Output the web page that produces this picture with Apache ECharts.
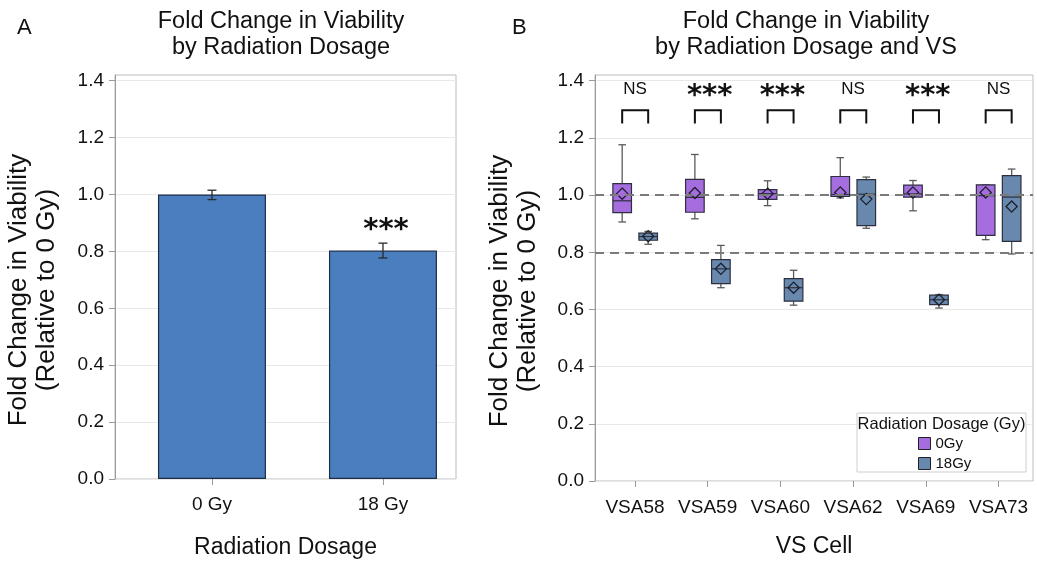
<!DOCTYPE html>
<html><head><meta charset="utf-8">
<script src="https://cdn.jsdelivr.net/npm/echarts@6/dist/echarts.min.js"></script>
<style>html,body{margin:0;padding:0;background:#fff}#c{width:1037px;height:570px}</style>
</head><body><div id="c"></div>
<script>
// ---------- Panel A data ----------
const doseCategories = ['0 Gy', '18 Gy'];
const doseMeans = [1.000, 0.803];
const doseErrLow = [0.982, 0.777];
const doseErrHigh = [1.015, 0.829];
const doseSignif = ['', '***'];

// ---------- Panel B data ----------
const cellCategories = ['VSA58', 'VSA59', 'VSA60', 'VSA62', 'VSA69', 'VSA73'];
// each entry: [whisker low, Q1, median, Q3, whisker high]
const box0Gy = [
  [0.906, 0.939, 0.980, 1.040, 1.176],
  [0.917, 0.940, 0.992, 1.055, 1.142],
  [0.963, 0.985, 1.005, 1.019, 1.050],
  [0.990, 0.995, 1.002, 1.065, 1.131],
  [0.945, 0.993, 1.004, 1.035, 1.051],
  [0.844, 0.859, 0.998, 1.036, 1.036]
];
const box18Gy = [
  [0.828, 0.842, 0.855, 0.867, 0.873],
  [0.676, 0.690, 0.742, 0.774, 0.824],
  [0.615, 0.629, 0.676, 0.708, 0.737],
  [0.884, 0.893, 1.003, 1.054, 1.063],
  [0.605, 0.617, 0.634, 0.650, 0.652],
  [0.794, 0.838, 0.993, 1.068, 1.091]
];
const mean0Gy = [1.005, 1.007, 1.005, 1.009, 1.009, 1.009];
const mean18Gy = [0.856, 0.742, 0.676, 0.986, 0.634, 0.960];
const cellSignif = ['NS', '***', '***', 'NS', '***', 'NS'];
const refLines = [1.0, 0.8];
const yTicks = [0, 0.2, 0.4, 0.6, 0.8, 1.0, 1.2, 1.4];
const groupNames = ['0Gy', '18Gy'];

// ---------- styles ----------
const FONT = '"Liberation Sans", Arial, Helvetica, sans-serif';
const PURPLE = '#a66ddf';
const SLATE = '#6889ad';
const BAR = '#4a7ebe';
const FRAME = '#bdbdbd';
const GRIDLINE = '#e8e8e8';

const chart = echarts.init(document.getElementById('c'));

function yAxis(gridIndex, nameGap) {
  return {
    type: 'value', gridIndex: gridIndex, min: 0, max: 1.42, interval: 0.2,
    name: 'Fold Change in Viability\n(Relative to 0 Gy)',
    nameLocation: 'middle', nameGap: nameGap,
    nameTextStyle: { fontSize: 26, lineHeight: 28, color: '#111', fontFamily: FONT, padding: [0, 26, 0, 0] },
    axisLine: { show: true, onZero: false, lineStyle: { color: '#9a9a9a', width: 1 } },
    axisTick: { show: true, length: 6, lineStyle: { color: '#9a9a9a' }, customValues: yTicks },
    axisLabel: { fontSize: 19, color: '#111', margin: 11, fontFamily: FONT,
      customValues: yTicks, formatter: v => v.toFixed(1) },
    splitLine: { show: true, lineStyle: { color: GRIDLINE, width: 1 } }
  };
}

function boxRender(offsetPx, fillColor) {
  return function (params, api) {
    const i = api.value(0);
    const cx = api.coord([i, 0])[0] + offsetPx;
    const y = k => api.coord([i, api.value(k)])[1];
    const yLow = y(1), yQ1 = y(2), yMed = y(3), yQ3 = y(4), yHigh = y(5), yMean = y(6);
    const hw = 9.3, cap = 3.8, d = 5.6;
    const wStyle = { stroke: '#5a5a5a', lineWidth: 1.3 };
    return {
      type: 'group',
      children: [
        { type: 'line', shape: { x1: cx, y1: yHigh, x2: cx, y2: yQ3 }, style: wStyle },
        { type: 'line', shape: { x1: cx, y1: yQ1, x2: cx, y2: yLow }, style: wStyle },
        { type: 'line', shape: { x1: cx - cap, y1: yHigh, x2: cx + cap, y2: yHigh }, style: wStyle },
        { type: 'line', shape: { x1: cx - cap, y1: yLow, x2: cx + cap, y2: yLow }, style: wStyle },
        { type: 'rect', shape: { x: cx - hw, y: yQ3, width: 2 * hw, height: Math.max(yQ1 - yQ3, 1) },
          style: { fill: fillColor, stroke: '#2c2f3f', lineWidth: 1.2 } },
        { type: 'line', shape: { x1: cx - hw, y1: yMed, x2: cx + hw, y2: yMed },
          style: { stroke: '#2c2f3f', lineWidth: 1.2 } },
        { type: 'polygon', shape: { points: [[cx, yMean - d], [cx + d, yMean], [cx, yMean + d], [cx - d, yMean]] },
          style: { fill: 'none', stroke: '#1c1f2e', lineWidth: 1.3 } }
      ]
    };
  };
}

const option = {
  animation: false,
  backgroundColor: '#fff',
  textStyle: { fontFamily: FONT },
  title: [
    { text: 'Fold Change in Viability\nby Radiation Dosage', left: 281, top: 9, textAlign: 'center', padding: 0,
      textStyle: { fontSize: 23.5, lineHeight: 26, fontWeight: 'normal', color: '#111', fontFamily: FONT } },
    { text: 'Fold Change in Viability\nby Radiation Dosage and VS', left: 806, top: 9, textAlign: 'center', padding: 0,
      textStyle: { fontSize: 23.5, lineHeight: 26, fontWeight: 'normal', color: '#111', fontFamily: FONT } },
    { text: 'A', left: 17, top: 17, padding: 0,
      textStyle: { fontSize: 22, fontWeight: 'normal', color: '#111', fontFamily: FONT } },
    { text: 'B', left: 512, top: 17, padding: 0,
      textStyle: { fontSize: 22, fontWeight: 'normal', color: '#111', fontFamily: FONT } }
  ],
  grid: [
    { left: 115, top: 75, width: 341, height: 404, show: true, borderColor: FRAME, borderWidth: 1, backgroundColor: 'transparent' },
    { left: 595, top: 75, width: 438, height: 406, show: true, borderColor: FRAME, borderWidth: 1, backgroundColor: 'transparent' }
  ],
  xAxis: [
    { type: 'value', gridIndex: 0, min: -0.567, max: 1.427,
      name: 'Radiation Dosage', nameLocation: 'middle', nameGap: 57,
      nameTextStyle: { fontSize: 23, color: '#111', fontFamily: FONT },
      axisLine: { show: false, onZero: false },
      axisTick: { show: true, length: 6, lineStyle: { color: '#9a9a9a' }, customValues: [0, 1] },
      axisLabel: { fontSize: 19, color: '#111', margin: 16, fontFamily: FONT,
        customValues: [0, 1], formatter: v => doseCategories[Math.round(v)] },
      splitLine: { show: false } },
    { type: 'value', gridIndex: 1, min: -0.55, max: 5.475,
      name: 'VS Cell', nameLocation: 'middle', nameGap: 54,
      nameTextStyle: { fontSize: 23, color: '#111', fontFamily: FONT },
      axisLine: { show: false, onZero: false },
      axisTick: { show: true, length: 6, lineStyle: { color: '#9a9a9a' }, customValues: [0, 1, 2, 3, 4, 5] },
      axisLabel: { fontSize: 19, color: '#111', margin: 17, fontFamily: FONT,
        customValues: [0, 1, 2, 3, 4, 5], formatter: v => cellCategories[Math.round(v)] },
      splitLine: { show: false } }
  ],
  yAxis: [yAxis(0, 54), yAxis(1, 53)],
  legend: {
    orient: 'vertical', left: 913, top: 431, itemWidth: 12, itemHeight: 12, itemGap: 5,
    icon: 'rect', z: 10,
    textStyle: { fontSize: 15, color: '#111', fontFamily: FONT, lineHeight: 14 },
    data: [
      { name: groupNames[0], itemStyle: { color: PURPLE, borderColor: '#222', borderWidth: 1 } },
      { name: groupNames[1], itemStyle: { color: SLATE, borderColor: '#222', borderWidth: 1 } }
    ]
  },
  graphic: [
    { type: 'rect', z: 8, shape: { x: 857, y: 413, width: 169, height: 59 },
      style: { fill: '#fff', stroke: '#cfcfcf', lineWidth: 1 } },
    { type: 'text', z: 9, x: 941.5, y: 424,
      style: { text: 'Radiation Dosage (Gy)', fontSize: 16.5, fontFamily: FONT, fill: '#111',
        textAlign: 'center', textVerticalAlign: 'middle' } }
  ],
  series: [
    // Panel A bars
    { type: 'bar', xAxisIndex: 0, yAxisIndex: 0, barWidth: 108, z: 2,
      data: doseMeans.map((v, i) => [i, v]),
      itemStyle: { color: BAR, borderColor: '#1d2f48', borderWidth: 1.2 } },
    // Panel A error bars + significance
    { type: 'custom', xAxisIndex: 0, yAxisIndex: 0, z: 3,
      data: doseMeans.map((v, i) => [i, doseErrLow[i], doseErrHigh[i]]),
      encode: { x: 0, y: [1, 2] },
      renderItem: function (params, api) {
        const i = api.value(0);
        const pLow = api.coord([i, api.value(1)]);
        const pHigh = api.coord([i, api.value(2)]);
        const cap = 4.5;
        const st = { stroke: '#2a2a2a', lineWidth: 1.3 };
        const children = [
          { type: 'line', shape: { x1: pLow[0], y1: pLow[1], x2: pHigh[0], y2: pHigh[1] }, style: st },
          { type: 'line', shape: { x1: pLow[0] - cap, y1: pLow[1], x2: pLow[0] + cap, y2: pLow[1] }, style: st },
          { type: 'line', shape: { x1: pHigh[0] - cap, y1: pHigh[1], x2: pHigh[0] + cap, y2: pHigh[1] }, style: st }
        ];
        const s = doseSignif[params.dataIndex];
        if (s) {
          const pt = api.coord([i, 0.893]);
          children.push({ type: 'text', x: pt[0] + 3, y: pt[1] + 6,
            style: { text: s, fontSize: 29, fontWeight: 'bold', fontFamily: '"DejaVu Sans", sans-serif',
              fill: '#111', textAlign: 'center', textVerticalAlign: 'middle' } });
        }
        return { type: 'group', children: children };
      } },
    // Panel B boxes
    { name: groupNames[0], type: 'custom', xAxisIndex: 1, yAxisIndex: 1, z: 3,
      itemStyle: { color: PURPLE },
      data: box0Gy.map((b, i) => [i].concat(b, [mean0Gy[i]])),
      encode: { x: 0, y: [1, 2, 3, 4, 5, 6] },
      renderItem: boxRender(-12.8, PURPLE) },
    { name: groupNames[1], type: 'custom', xAxisIndex: 1, yAxisIndex: 1, z: 3,
      itemStyle: { color: SLATE },
      data: box18Gy.map((b, i) => [i].concat(b, [mean18Gy[i]])),
      encode: { x: 0, y: [1, 2, 3, 4, 5, 6] },
      renderItem: boxRender(13.2, SLATE) },
    // reference dashed lines
    { type: 'line', xAxisIndex: 1, yAxisIndex: 1, data: [], z: 4,
      markLine: { silent: true, symbol: 'none', animation: false,
        lineStyle: { type: [9, 6], color: '#7b7b7b', width: 2 },
        label: { show: false },
        data: refLines.map(v => ({ yAxis: v })) } },
    // brackets + significance labels
    { type: 'custom', xAxisIndex: 1, yAxisIndex: 1, z: 5,
      data: cellSignif.map((s, i) => [i]),
      encode: { x: 0 },
      renderItem: function (params, api) {
        const i = api.value(0);
        const c = api.coord([i, 1.25]);
        const top = api.coord([i, 1.297])[1];
        const lab = api.coord([i, 1.369])[1];
        const x1 = c[0] - 12.8, x2 = c[0] + 13.2;
        const s = cellSignif[params.dataIndex];
        const isStar = s.indexOf('*') >= 0;
        return { type: 'group', children: [
          { type: 'polyline', shape: { points: [[x1, c[1]], [x1, top], [x2, top], [x2, c[1]]] },
            style: { stroke: '#111', lineWidth: 2, fill: 'none' } },
          { type: 'text', x: c[0] + (isStar ? 2 : 0), y: isStar ? lab + 7 : lab,
            style: { text: s, fontSize: isStar ? 29 : 17, fontWeight: isStar ? 'bold' : 'normal',
              fontFamily: isStar ? '"DejaVu Sans", sans-serif' : FONT,
              fill: '#111', textAlign: 'center', textVerticalAlign: 'middle' } }
        ] };
      } }
  ]
};
chart.setOption(option);
</script>
</body></html>
